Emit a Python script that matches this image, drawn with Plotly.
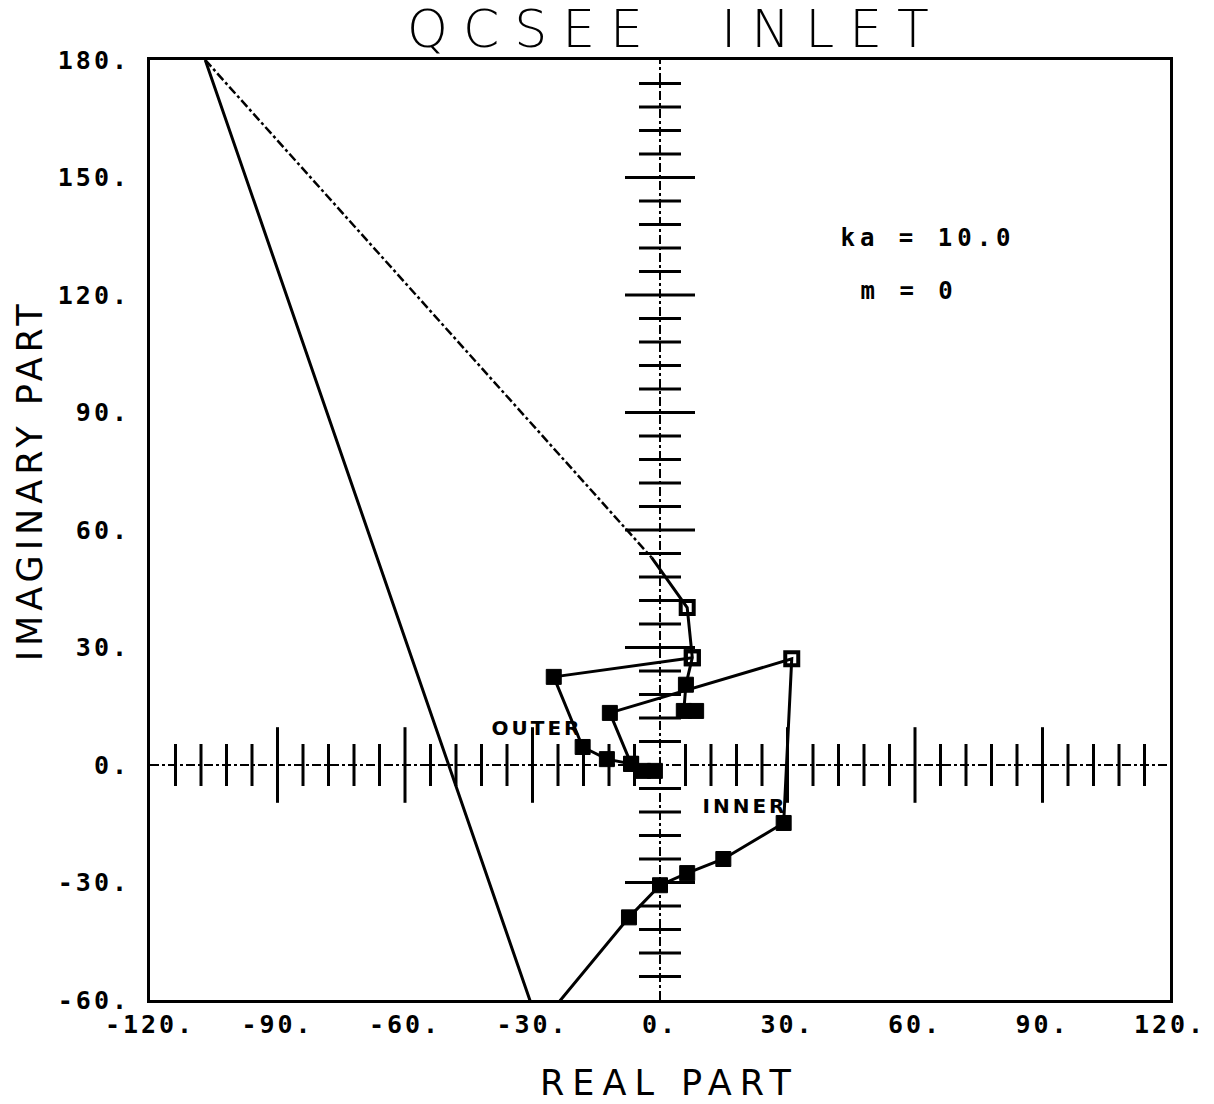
import plotly.graph_objects as go

# ---- data: eigenvalue loci in the complex plane (real, imaginary) ----
# kind: "f" filled square, "o" open square, "" plain vertex (no symbol)
outer_re = [-1.2, -4.0, -6.8, -12.5, -18.2, -25.0, 7.6]
outer_im = [-1.5, -1.5, 0.3, 1.5, 4.6, 22.5, 27.4]
outer_kind = ["f", "f", "f", "f", "f", "f", "o"]

inner_re = [-6.8, -11.8, 31.0, 29.1, 14.9, 6.4, 0.0, -7.3, -28.5, -107.0]
inner_im = [0.3, 13.3, 27.1, -14.8, -24.0, -27.6, -30.7, -38.9, -66.7, 180.0]
inner_kind = ["f", "f", "o", "f", "f", "f", "f", "f", "", ""]

upper_re = [8.5, 5.6, 6.1, 7.6, 6.4, -2.0]
upper_im = [13.8, 13.8, 20.5, 27.4, 40.2, 53.0]
upper_kind = ["f", "f", "f", "o", "o", ""]

# dash-dot return from the top of the plot down to the upper branch
link_re = [-107.0, -2.0]
link_im = [180.0, 53.0]

x_ticks = [-120, -90, -60, -30, 0, 30, 60, 90, 120]
x_ticktext = ["-120.", "-90.", "-60.", "-30.", "0.", "30.", "60.", "90.", "120."]
y_ticks = [-60, -30, 0, 30, 60, 90, 120, 150, 180]
y_ticktext = ["-60.", "-30.", "0.", "30.", "60.", "90.", "120.", "150.", "180."]

title_text = "QCSEE  INLET"
ka_text = "ka = 10.0"
m_text = "m = 0"

X_RANGE = [-120, 120]
Y_RANGE = [-60, 180]
BLACK = "#000000"


def symbols(kinds):
    sym, size, lw = [], [], []
    for k in kinds:
        if k == "f":
            sym.append("square"); size.append(15); lw.append(1)
        elif k == "o":
            sym.append("square-open"); size.append(13); lw.append(4)
        else:
            sym.append("square"); size.append(0); lw.append(0)
    return sym, size, lw


fig = go.Figure()

# cross axes through the origin, drawn dash-dot
fig.add_shape(type="line", xref="x", yref="y", x0=X_RANGE[0], x1=X_RANGE[1], y0=0, y1=0,
              line=dict(color=BLACK, width=2, dash="dashdot"), layer="below")
fig.add_shape(type="line", xref="x", yref="y", x0=0, x1=0, y0=Y_RANGE[0], y1=Y_RANGE[1],
              line=dict(color=BLACK, width=2, dash="dashdot"), layer="below")

# tick marks on the cross axes: every 6 units, longer every 30
hx = [v for v in range(-114, 115, 6) if v != 0]
vy = [v for v in range(-54, 175, 6) if v != 0]
fig.add_trace(go.Scatter(
    x=hx, y=[0] * len(hx), mode="markers", hoverinfo="skip", opacity=1,
    marker=dict(symbol="line-ns", size=[54 if v % 30 == 0 else 30 for v in hx],
                color=BLACK, opacity=1, line=dict(color=BLACK, width=3)),
    cliponaxis=False))
fig.add_trace(go.Scatter(
    x=[0] * len(vy), y=vy, mode="markers", hoverinfo="skip", opacity=1,
    marker=dict(symbol="line-ew", size=[50 if v % 30 == 0 else 30 for v in vy],
                color=BLACK, opacity=1, line=dict(color=BLACK, width=3)),
    cliponaxis=False))

# dash-dot link
fig.add_trace(go.Scatter(x=link_re, y=link_im, mode="lines", hoverinfo="skip",
                         line=dict(color=BLACK, width=2.5, dash="dashdot")))

for re_, im_, kinds in [(outer_re, outer_im, outer_kind),
                        (inner_re, inner_im, inner_kind),
                        (upper_re, upper_im, upper_kind)]:
    sym, size, lw = symbols(kinds)
    fig.add_trace(go.Scatter(
        x=re_, y=im_, mode="lines+markers", opacity=1,
        line=dict(color=BLACK, width=3),
        marker=dict(symbol=sym, size=size, color=BLACK, opacity=1,
                    line=dict(color=BLACK, width=lw))))

label_font = dict(family="DejaVu Sans", size=20, color=BLACK, weight="bold")
fig.add_annotation(x=-19.5, y=9.5, xref="x", yref="y", text="OUTER", showarrow=False,
                   xanchor="right", yanchor="middle", font=label_font)
fig.add_annotation(x=28.8, y=-10.5, xref="x", yref="y", text="INNER", showarrow=False,
                   xanchor="right", yanchor="middle", font=label_font)

param_font = dict(family="DejaVu Sans Mono", size=24, color=BLACK, weight="bold")
fig.add_annotation(x=47.3, y=134.5, xref="x", yref="y", text=ka_text, showarrow=False,
                   xanchor="left", yanchor="middle", font=param_font)
fig.add_annotation(x=49.6, y=121.0, xref="x", yref="y", text=m_text, showarrow=False,
                   xanchor="left", yanchor="middle", font=param_font)

fig.add_annotation(x=0.515, y=1.033, xref="paper", yref="paper", text=title_text,
                   showarrow=False, xanchor="center", yanchor="middle",
                   font=dict(family="DejaVu Sans", color=BLACK, weight=200, size=52))
axis_title_font = dict(family="DejaVu Sans", color=BLACK, weight=400, size=35)
fig.add_annotation(x=0.51, y=-0.088, xref="paper", yref="paper", text="REAL PART",
                   showarrow=False, xanchor="center", yanchor="middle",
                   font=axis_title_font)
fig.add_annotation(x=-0.1176, y=0.553, xref="paper", yref="paper", text="IMAGINARY PART",
                   showarrow=False, xanchor="center", yanchor="middle", textangle=-90,
                   font=axis_title_font)

tick_font = dict(family="DejaVu Sans Mono", size=25, color=BLACK, weight="bold")
axis_common = dict(showgrid=False, zeroline=False, showline=True, mirror=True,
                   linecolor=BLACK, linewidth=3, ticks="", tickfont=tick_font)
fig.update_xaxes(range=X_RANGE, tickvals=x_ticks, ticktext=x_ticktext, **axis_common)
fig.update_yaxes(range=Y_RANGE, tickvals=y_ticks, ticktext=y_ticktext,
                 ticklabelstandoff=12, **axis_common)

fig.update_layout(
    width=1214, height=1104,
    margin=dict(l=150, r=44, t=60, b=104),
    paper_bgcolor="white", plot_bgcolor="white",
    showlegend=False,
)

spacing_js = """
var gd = document.getElementById('{plot_id}');
function spaceText() {
  gd.querySelectorAll('.annotation-text').forEach(function (t) {
    var s = t.textContent;
    if (s.indexOf('QCSEE') === 0) { t.style.letterSpacing = '15px'; }
    else if (s.indexOf('IMAGINARY') === 0) { t.style.letterSpacing = '5px'; }
    else if (s.indexOf('REAL') === 0) { t.style.letterSpacing = '8px'; }
    else if (s.indexOf('=') >= 0) { t.style.letterSpacing = '5px'; }
    else { t.style.letterSpacing = '3px'; }
  });
  gd.querySelectorAll('.xtick text, .ytick text').forEach(function (t) {
    t.style.letterSpacing = '3px';
  });
}
spaceText();
gd.on('plotly_afterplot', spaceText);
"""

fig.write_html("out.html", post_script=spacing_js)
